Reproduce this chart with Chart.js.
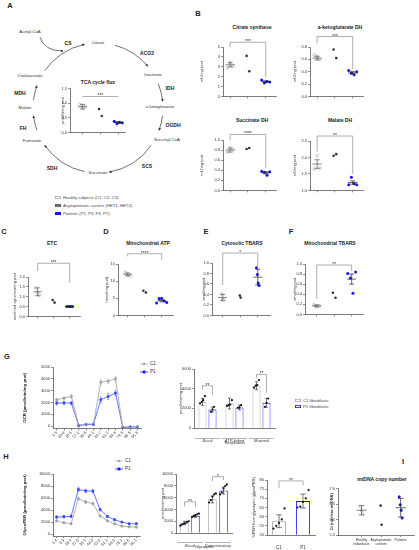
<!DOCTYPE html>
<html lang="en">
<head>
<meta charset="UTF-8">
<title>TCA cycle and mitochondrial function</title>
<script src="https://cdn.jsdelivr.net/npm/chart.js"></script>
<style>
    body {
        margin: 0;
        width: 419px;
        height: 550px;
        position: relative;
        overflow: hidden;
        background: #fff;
        font-family: 'Liberation Sans', Arial, sans-serif;
        color: #222;
    }
    canvas { position: absolute; }
    .t {
        position: absolute;
        white-space: nowrap;
        transform: translate(-50%, -50%);
        line-height: 1;
    }
    .letter { font-weight: bold; font-size: 7.5px; }
    .ttl { font-weight: bold; font-size: 5px; color: #222; }
    .leg {
        position: absolute;
        font-size: 4.2px;
        color: #444;
        white-space: nowrap;
        line-height: 1;
    }
    .leg svg { vertical-align: middle; margin-right: 2px; }
</style>
</head>
<body>

<script>
// ---------- data ----------
// A  TCA cycle flux
const tcaHealthy = [0.95, 0.85, 0.88];
const tcaCarriers = [0.80, 0.56];
const tcaPatients = [0.38, 0.30, 0.35, 0.33];
const tcaMean = [0.88, null, 0.34];
const tcaErr = [0.08, null, 0.03];

// B  enzyme activities (mU/mg prot)
const csHealthy = [2.9, 3.45, 3.1];
const csCarriers = [4.1, 2.55];
const csPatients = [1.65, 1.35, 1.5, 1.45];
const csMean = [3.2, null, 1.5];
const csErr = [0.22, null, 0.07];

const akgHealthy = [0.67, 0.64, 0.60];
const akgCarriers = [0.76, 0.62];
const akgPatients = [0.42, 0.38, 0.35, 0.40];
const akgMean = [0.62, null, 0.38];
const akgErr = [0.03, null, 0.02];

const sdhHealthy = [0.76, 0.85, 0.81];
const sdhCarriers = [0.82, 0.84];
const sdhPatients = [0.38, 0.36, 0.30, 0.37];
const sdhMean = [0.80, null, 0.35];
const sdhErr = [0.04, null, 0.02];

const mdhHealthy = [1.65, 2.05, 1.68];
const mdhCarriers = [2.05, 2.10];
const mdhPatients = [1.17, 1.40, 1.20, 1.17];
const mdhMean = [1.80, null, 1.24];
const mdhErr = [0.13, null, 0.05];

// C-F
const etcHealthy = [1.45, 1.22, 1.08];
const etcCarriers = [0.83, 0.70];
const etcPatients = [0.5, 0.5, 0.5, 0.5];
const etcMean = [1.25, null, 0.5];
const etcErr = [0.2, null, 0.02];

const atpHealthy = [12.6, 11.5, 11.6];
const atpCarriers = [7.2, 6.7];
const atpPatients = [3.6, 4.9, 5.0, 4.2, 3.8];
const atpMean = [12.0, null, 4.3];
const atpErr = [0.4, null, 0.3];

const ctbHealthy = [0.41, 0.31, 0.30];
const ctbCarriers = [0.38, 0.34];
const ctbPatients = [0.91, 0.78, 0.62, 0.57];
const ctbMean = [0.34, null, 0.73];
const ctbErr = [0.06, null, 0.15];

const mtbHealthy = [0.19, 0.15, 0.17];
const mtbCarriers = [0.43, 0.33];
const mtbPatients = [0.81, 0.72, 0.42, 0.84];
const mtbMean = [0.17, null, 0.70];
const mtbErr = [0.02, null, 0.10];

// G  OCR time course + respiration bars
const ocrTimes = ['1.5', '10.0', '18.5', '27.1', '35.6', '44.1', '52.7', '61.2', '69.8', '78.3', '86.8', '95.3'];
const ocrC1 = [2230, 2370, 2510, 90, 170, 200, 3710, 3800, 4000, -110, -60, -60];
const ocrP1 = [1940, 1970, 1940, 30, 140, 140, 2230, 2510, 2800, -110, -60, -60];
const ocrC1Err = [100, 100, 150, 30, 30, 30, 200, 200, 200, 30, 30, 30];
const ocrP1Err = [150, 150, 150, 40, 40, 40, 250, 250, 200, 30, 30, 30];
const ocrTicks = [0, 1000, 2000, 3000, 4000, 5000];

const respLabels = ['Basal', 'ATP-linked', 'Maximal'];
const respC1 = [2650, 2480, 4300];
const respP1 = [1880, 2080, 2560];
const respC1Err = [350, 550, 400];
const respP1Err = [250, 250, 450];
const respC1Dots = [[2490, 2660, 2830, 3240], [2250, 2320, 2390, 2830], [4100, 4300, 4370, 4880]];
const respP1Dots = [[1640, 1880, 2150], [2050, 2100, 2320], [2150, 2560, 3000]];
const respTicks = [0, 2000, 4000, 6000];

// H  glycoPER time course + glycolysis bars + %PER
const perTimes = ['1.4', '9.9', '18.4', '27.0', '35.5', '44.0', '52.6', '61.1', '69.6', '78.1', '86.6', '95.1'];
const perC1 = [2230, 1900, 1730, 5900, 5360, 5080, 3020, 2230, 1730, 1340, 1230, 1170];
const perP1 = [2850, 2900, 2960, 7430, 7200, 7150, 4080, 2960, 2400, 2010, 1730, 1730];
const perC1Err = [150, 150, 150, 300, 250, 250, 150, 100, 100, 100, 100, 100];
const perP1Err = [200, 200, 200, 350, 300, 300, 200, 150, 100, 100, 100, 100];
const perTicks = [0, 2000, 4000, 6000, 8000, 10000];

const glyLabels = ['Basal', 'Compensatory'];
const glyC1 = [1700, 5700];
const glyP1 = [2900, 7200];
const glyC1Err = [300, 600];
const glyP1Err = [250, 600];
const glyC1Dots = [[1250, 1420, 1590, 1650, 1875, 1990], [5170, 5570, 6140, 6530, 6700]];
const glyP1Dots = [[2730, 2900, 3000, 3180, 3300], [6530, 6870, 7560, 7950, 8240]];

const pctLabels = ['C1', 'P1'];
const pctValues = [57.5, 68.5];
const pctErr = [3.5, 3.8];
const pctDots = [[53.5, 55, 56.5, 58.5, 64.5], [65, 65.5, 68, 70, 74.5]];

// I  mtDNA copy number
const mtLabels = [['Healthy', 'individuals'], ['Asymptomatic', 'carriers'], 'Patients'];
const mtHealthy = [6.42, 6.30, 6.18];
const mtCarriers = [6.45, 5.83];
const mtPatients = [6.74, 6.48, 6.30, 6.05];
const mtMean = [6.30, null, 6.38];
const mtErr = [0.15, null, 0.30];

// ---------- helpers ----------
const FONT = "'Liberation Sans', Arial, sans-serif";
Chart.defaults.font.family = FONT;
Chart.defaults.font.size = 4;
Chart.defaults.color = '#333';

const GREY = '#a0a0a0', BLUE = '#1414ff', BLUE_LINE = '#3a55ff';
const plain = v => String(v);

function seg(ctx, pts) {
    ctx.beginPath();
    ctx.moveTo(pts[0][0], pts[0][1]);
    for (let i = 1; i < pts.length; i++) ctx.lineTo(pts[i][0], pts[i][1]);
    ctx.stroke();
}

function drawBracket(ctx, x1, x2, y, b) {
    ctx.strokeStyle = '#777';
    ctx.lineWidth = 0.6;
    seg(ctx, [[x1, y(b.l1)], [x1, y(b.y)], [x2, y(b.y)], [x2, y(b.l2)]]);
    ctx.fillStyle = '#333';
    ctx.font = '5px ' + FONT;
    ctx.textAlign = 'center';
    ctx.textBaseline = 'alphabetic';
    ctx.fillText(b.text, (x1 + x2) / 2, y(b.y) + 1);
}

// mean / error bars and brackets on the dot plots
const marks = {
    id: 'marks',
    afterDatasetsDraw(chart, args, o) {
        if (!o.mean) return;
        const ctx = chart.ctx, xs = chart.scales.x, ys = chart.scales.y;
        const x = v => xs.getPixelForValue(v), y = v => ys.getPixelForValue(v);
        ctx.save();
        o.mean.forEach((m, g) => {
            if (m == null) return;
            const e = o.err[g], px = x(g + 1), hw = x(g + 1.26) - px, ww = hw * 0.55;
            ctx.strokeStyle = g === 0 ? '#555' : '#222';
            ctx.lineWidth = 0.7;
            seg(ctx, [[px - hw, y(m)], [px + hw, y(m)]]);
            seg(ctx, [[px, y(m - e)], [px, y(m + e)]]);
            seg(ctx, [[px - ww, y(m + e)], [px + ww, y(m + e)]]);
            seg(ctx, [[px - ww, y(m - e)], [px + ww, y(m - e)]]);
        });
        (o.brackets || []).forEach(b => drawBracket(ctx, x(b.x1), x(b.x2), y, b));
        ctx.restore();
    }
};

// replicate dots, error bars, brackets and group axis on bar charts
const barMarks = {
    id: 'barMarks',
    afterDatasetsDraw(chart, args, o) {
        if (!o.dots) return;
        const ctx = chart.ctx, ys = chart.scales.y, y = v => ys.getPixelForValue(v);
        ctx.save();
        chart.data.datasets.forEach((ds, di) => {
            chart.getDatasetMeta(di).data.forEach((bar, i) => {
                const v = ds.data[i], e = o.err[di][i], w = bar.width, px = bar.x;
                ctx.strokeStyle = '#222';
                ctx.lineWidth = 0.6;
                seg(ctx, [[px, y(v - e)], [px, y(v + e)]]);
                seg(ctx, [[px - w * 0.2, y(v + e)], [px + w * 0.2, y(v + e)]]);
                seg(ctx, [[px - w * 0.2, y(v - e)], [px + w * 0.2, y(v - e)]]);
                const pts = o.dots[di][i];
                ctx.fillStyle = '#111';
                pts.forEach((p, k) => {
                    const dx = (k - (pts.length - 1) / 2) * w * 0.2;
                    ctx.beginPath();
                    ctx.arc(px + dx, y(p), 1.1, 0, Math.PI * 2);
                    ctx.fill();
                });
            });
        });
        (o.brackets || []).forEach(b => {
            const m1 = chart.getDatasetMeta(b.a[0]).data[b.a[1]];
            const m2 = chart.getDatasetMeta(b.b[0]).data[b.b[1]];
            drawBracket(ctx, m1.x, m2.x, y, b);
        });
        if (o.group) {
            const xs = chart.scales.x, base = chart.chartArea.bottom;
            const half = xs.width / xs.ticks.length * 0.46;
            ctx.strokeStyle = '#666';
            ctx.lineWidth = 0.5;
            xs.ticks.forEach((t, i) => {
                const c = xs.getPixelForTick(i);
                seg(ctx, [[c - half, base + o.lineOff], [c + half, base + o.lineOff]]);
            });
            ctx.fillStyle = '#333';
            ctx.font = '4px ' + FONT;
            ctx.textAlign = 'center';
            ctx.textBaseline = 'middle';
            ctx.fillText(o.group, (xs.left + xs.right) / 2, base + o.textOff);
        }
        ctx.restore();
    }
};

// error bars on the time-course lines
const lineErr = {
    id: 'lineErr',
    afterDatasetsDraw(chart, args, o) {
        if (!o.err) return;
        const ctx = chart.ctx, ys = chart.scales.y, y = v => ys.getPixelForValue(v);
        ctx.save();
        ctx.lineWidth = 0.5;
        chart.data.datasets.forEach((ds, di) => {
            ctx.strokeStyle = ds.borderColor;
            chart.getDatasetMeta(di).data.forEach((p, i) => {
                const v = ds.data[i], e = o.err[di][i];
                seg(ctx, [[p.x, y(v - e)], [p.x, y(v + e)]]);
                seg(ctx, [[p.x - 1, y(v + e)], [p.x + 1, y(v + e)]]);
                seg(ctx, [[p.x - 1, y(v - e)], [p.x + 1, y(v - e)]]);
            });
        });
        ctx.restore();
    }
};

Chart.register(marks, barMarks, lineErr);

function canvasAt(L, T, R, B) {
    const c = document.createElement('canvas');
    c.width = R - L;
    c.height = B - T;
    c.style.left = L + 'px';
    c.style.top = T + 'px';
    c.style.width = (R - L) + 'px';
    c.style.height = (B - T) + 'px';
    document.body.appendChild(c);
    return c;
}

function axisLook() {
    return {
        grid: { drawOnChartArea: false, tickLength: 2, color: '#444', lineWidth: 0.6 },
        border: { color: '#444', width: 0.7 }
    };
}

// frame: canvas box (L,T,R,B) and plot area (ax = y axis x, top, right, bot = x axis y)
function frameOptions(f) {
    return {
        responsive: false,
        animation: false,
        events: [],
        layout: { padding: { top: f.top - f.T, right: f.R - f.right, left: 0, bottom: 0 } }
    };
}

function spread(vals, g, w) {
    return vals.map((v, i) => ({ x: g + (i - (vals.length - 1) / 2) * w, y: v }));
}

function dotPlot(f, d) {
    const w = d.w || 0.15;
    new Chart(canvasAt(f.L, f.T, f.R, f.B), {
        type: 'scatter',
        data: {
            datasets: [
                { data: spread(d.h, 1, w), backgroundColor: '#fff', borderColor: GREY, borderWidth: 0.6, pointRadius: 1.4 },
                { data: spread(d.c, 2, w), backgroundColor: '#333', borderColor: '#333', borderWidth: 0, pointRadius: 1.3 },
                { data: spread(d.p, 3, w), backgroundColor: BLUE, borderColor: BLUE, borderWidth: 0, pointRadius: 1.5 }
            ]
        },
        options: Object.assign(frameOptions(f), {
            plugins: {
                legend: { display: false },
                tooltip: { enabled: false },
                marks: { mean: d.mean, err: d.err, brackets: d.brackets || [] }
            },
            scales: {
                x: Object.assign(axisLook(), {
                    type: 'linear', min: f.xMin, max: f.xMax,
                    afterBuildTicks: a => { a.ticks = [1, 2, 3].map(v => ({ value: v })); },
                    afterFit: a => { a.height = f.B - f.bot; },
                    ticks: {
                        padding: 1, maxRotation: 0, autoSkip: false, font: { size: 3.4 },
                        callback: (v, i) => d.xLabels ? d.xLabels[i] : ''
                    }
                }),
                y: Object.assign(axisLook(), {
                    min: d.yMin, max: d.yMax,
                    afterFit: a => { a.width = f.ax - f.L; },
                    ticks: { stepSize: d.step, padding: 1, callback: v => v.toFixed(d.dec) },
                    title: { display: true, text: d.yTitle, padding: 0, font: { size: 4, weight: d.boldTitle ? 'bold' : 'normal' } }
                })
            }
        })
    });
}

function lineChart(f, d) {
    new Chart(canvasAt(f.L, f.T, f.R, f.B), {
        type: 'line',
        data: {
            labels: d.labels,
            datasets: [
                { label: 'C1', data: d.c1, borderColor: GREY, backgroundColor: GREY, borderWidth: 0.8, pointRadius: 1.1 },
                { label: 'P1', data: d.p1, borderColor: BLUE_LINE, backgroundColor: BLUE, borderWidth: 0.8, pointRadius: 1.3, pointStyle: 'rect' }
            ]
        },
        options: Object.assign(frameOptions(f), {
            plugins: { legend: { display: false }, tooltip: { enabled: false }, lineErr: { err: d.err } },
            scales: {
                x: Object.assign(axisLook(), {
                    offset: true,
                    afterFit: a => { a.height = f.B - f.bot; },
                    ticks: { minRotation: 45, maxRotation: 45, autoSkip: false, padding: 0 }
                }),
                y: Object.assign(axisLook(), {
                    min: d.yMin, max: d.ticks[d.ticks.length - 1],
                    afterBuildTicks: a => { a.ticks = d.ticks.map(v => ({ value: v })); },
                    afterFit: a => { a.width = f.ax - f.L; },
                    ticks: { padding: 1, callback: plain },
                    title: { display: true, text: d.yTitle, padding: 0, color: '#222', font: { size: 4.3, weight: 'bold' } }
                })
            }
        })
    });
}

function barChart(f, d) {
    new Chart(canvasAt(f.L, f.T, f.R, f.B), {
        type: 'bar',
        data: { labels: d.labels, datasets: d.datasets },
        options: Object.assign(frameOptions(f), {
            plugins: {
                legend: { display: false },
                tooltip: { enabled: false },
                barMarks: { dots: d.dots, err: d.err, brackets: d.brackets, group: d.group, lineOff: d.lineOff, textOff: d.textOff }
            },
            scales: {
                x: {
                    grid: { display: false },
                    border: { color: '#444', width: 0.7 },
                    afterFit: a => { a.height = f.B - f.bot; },
                    ticks: { padding: 2, maxRotation: 0, autoSkip: false, font: { size: d.tickSize || 4, style: d.italic ? 'italic' : 'normal' } }
                },
                y: Object.assign(axisLook(), {
                    min: d.yMin, max: d.yMax,
                    afterBuildTicks: d.ticks ? a => { a.ticks = d.ticks.map(v => ({ value: v })); } : undefined,
                    afterFit: a => { a.width = f.ax - f.L; },
                    ticks: { padding: 1, stepSize: d.step, callback: plain },
                    title: { display: true, text: d.yTitle, padding: 0, font: { size: 4 } }
                })
            }
        })
    });
}

function text(cls, x, y, s, style) {
    const el = document.createElement('div');
    el.className = 't ' + cls;
    el.style.left = x + 'px';
    el.style.top = y + 'px';
    if (style) el.style.cssText += style;
    el.textContent = s;
    document.body.appendChild(el);
}

// ---------- panel A: TCA cycle diagram ----------
(function () {
    const cx = 98, cy = 108, r = 65;
    const arcs = [[15, 50], [68, 84], [97, 110], [125, 170], [192, 235], [250, 263], [277, 290], [305, 348]];
    const pt = a => {
        const t = a * Math.PI / 180;
        return [cx + r * Math.sin(t), cy - r * Math.cos(t)];
    };
    let svg = '<svg width="210" height="195" style="position:absolute;left:0;top:0">' +
        '<defs><marker id="ah" viewBox="0 0 6 6" refX="5" refY="3" markerWidth="4" markerHeight="4" orient="auto">' +
        '<path d="M0,0 L6,3 L0,6 z" fill="#333"/></marker></defs>';
    arcs.forEach(([a, b]) => {
        const [x1, y1] = pt(a), [x2, y2] = pt(b);
        svg += `<path d="M${x1},${y1} A${r},${r} 0 0 1 ${x2},${y2}" fill="none" stroke="#333" stroke-width="0.7" marker-end="url(#ah)"/>`;
    });
    svg += '<path d="M40,37 Q44,51 63,51" fill="none" stroke="#333" stroke-width="0.7" marker-end="url(#ah)"/>';
    svg += '</svg>';
    document.body.insertAdjacentHTML('beforeend', svg);

    const metab = [['Acetyl-CoA', 30, 32], ['Citrate', 98, 43], ['Isocitrate', 153, 75], ['a-ketoglutarate', 160, 107],
        ['Succinyl-CoA', 167, 140], ['Succinate', 98, 173], ['Fumarate', 32, 141], ['Malate', 25, 108], ['Oxaloacetate', 30, 76]];
    metab.forEach(m => text('', m[1], m[2], m[0], 'font-size:4.3px;color:#333'));
    const enz = [['CS', 68, 43], ['ACO2', 147, 53], ['IDH', 170, 88], ['OGDH', 173, 125],
        ['SCS', 147, 166], ['SDH', 52, 168], ['FH', 23, 128], ['MDH', 20, 93]];
    enz.forEach(e => text('', e[1], e[2], e[0], 'font-size:5px;font-weight:bold;color:#222'));
})();

// panel letters and titles
[['A', 10, 6], ['B', 198, 14], ['C', 4, 232], ['D', 106, 232], ['E', 206, 232], ['F', 291, 232],
 ['G', 7, 357], ['H', 6, 457], ['I', 403, 462]].forEach(l => text('letter', l[1], l[2], l[0]));
[['TCA cycle flux', 98, 82], ['Citrate synthase', 252, 27], ['a-ketoglutarate DH', 340, 27],
 ['Succinate DH', 252, 120], ['Malate DH', 340, 120], ['ETC', 52, 243], ['Mitochondrial ATP', 148, 243],
 ['Cytosolic TBARS', 242, 243], ['Mitochondrial TBARS', 330, 243], ['mtDNA copy number', 382, 479]]
    .forEach(t => text('ttl', t[1], t[2], t[0]));

// group legend under A
document.body.insertAdjacentHTML('beforeend',
    '<div class="leg" style="left:55px;top:196px"><svg width="6" height="3"><rect x="0.3" y="0.3" width="5.4" height="2.4" fill="#fff" stroke="#999" stroke-width="0.6"/></svg>Healthy subjects (C1, C2, C3)</div>' +
    '<div class="leg" style="left:55px;top:204px"><svg width="6" height="3"><rect x="0.3" y="0.3" width="5.4" height="2.4" fill="#777" stroke="#444" stroke-width="0.6"/></svg>Asymptomatic carriers (HET1, HET2)</div>' +
    '<div class="leg" style="left:55px;top:212px"><svg width="6" height="3"><rect x="0" y="0" width="6" height="3" fill="' + BLUE + '"/></svg>Patients (P1, P3, P6, P7)</div>');

// line and bar legends in G and H
function lineLegend(x, y, label, color, square) {
    const mk = square ? `<rect x="2.6" y="0.6" width="2.8" height="2.8" fill="${color}"/>` : `<circle cx="4" cy="2" r="1.2" fill="${color}"/>`;
    document.body.insertAdjacentHTML('beforeend',
        `<div class="leg" style="left:${x}px;top:${y}px;font-size:4.6px;color:#333"><svg width="8" height="4"><line x1="0" y1="2" x2="8" y2="2" stroke="${color}" stroke-width="0.7"/>${mk}</svg>${label}</div>`);
}
lineLegend(140, 362, 'C1', GREY, false);
lineLegend(140, 370, 'P1', BLUE, true);
lineLegend(115, 459, 'C1', GREY, false);
lineLegend(115, 467, 'P1', BLUE, true);
document.body.insertAdjacentHTML('beforeend',
    '<div class="leg" style="left:295px;top:399px"><svg width="6" height="3"><rect x="0.3" y="0.3" width="5.4" height="2.4" fill="#fff" stroke="#999" stroke-width="0.6"/></svg>C1 fibroblasts</div>' +
    '<div class="leg" style="left:295px;top:405px"><svg width="6" height="3"><rect x="0.4" y="0.4" width="5.2" height="2.2" fill="#fff" stroke="' + BLUE + '" stroke-width="0.8"/></svg>P1 fibroblasts</div>');

// ---------- dot plots ----------
const bracket13 = (y, l1, l2, t) => ({ x1: 1, x2: 3, y: y, l1: l1, l2: l2, text: t });

dotPlot({ L: 60, T: 84, R: 130, B: 137, ax: 70, top: 87, right: 127, bot: 133, xMin: 0.3, xMax: 3.4 },
    { h: tcaHealthy, c: tcaCarriers, p: tcaPatients, mean: tcaMean, err: tcaErr, yMin: 0, yMax: 1.5, step: 0.5, dec: 1,
      yTitle: 'pmol/h/mg prot', brackets: [bracket13(1.23, 1.23, 1.23, '***')] });

dotPlot({ L: 199, T: 30, R: 281, B: 101, ax: 223, top: 47, right: 278, bot: 98, xMin: 0.6, xMax: 3.6 },
    { h: csHealthy, c: csCarriers, p: csPatients, mean: csMean, err: csErr, yMin: 0, yMax: 5, step: 1, dec: 0,
      yTitle: 'mU/mg prot', brackets: [bracket13(5.48, 5.0, 1.9, '***')] });

dotPlot({ L: 292, T: 30, R: 368, B: 101, ax: 310, top: 47, right: 365, bot: 98, xMin: 0.6, xMax: 3.6 },
    { h: akgHealthy, c: akgCarriers, p: akgPatients, mean: akgMean, err: akgErr, yMin: 0, yMax: 0.8, step: 0.2, dec: 1,
      yTitle: 'mU/mg prot', brackets: [bracket13(0.97, 0.86, 0.44, '***')] });

dotPlot({ L: 199, T: 124, R: 281, B: 195, ax: 223, top: 140, right: 278, bot: 192, xMin: 0.6, xMax: 3.6 },
    { h: sdhHealthy, c: sdhCarriers, p: sdhPatients, mean: sdhMean, err: sdhErr, yMin: 0, yMax: 1.0, step: 0.2, dec: 1,
      yTitle: 'mU/mg prot', brackets: [bracket13(1.11, 1.0, 0.45, '****')] });

dotPlot({ L: 292, T: 124, R: 368, B: 195, ax: 310, top: 141, right: 365, bot: 192, xMin: 0.6, xMax: 3.6 },
    { h: mdhHealthy, c: mdhCarriers, p: mdhPatients, mean: mdhMean, err: mdhErr, yMin: 1.0, yMax: 2.5, step: 0.5, dec: 1,
      yTitle: 'mU/mg prot', brackets: [bracket13(2.65, 2.18, 1.5, '**')] });

dotPlot({ L: 12, T: 252, R: 85, B: 321, ax: 28, top: 277, right: 82, bot: 318, xMin: 0.4, xMax: 3.67 },
    { h: etcHealthy, c: etcCarriers, p: etcPatients, mean: etcMean, err: etcErr, yMin: 0, yMax: 2.0, step: 0.5, dec: 1,
      yTitle: 'nmol red cyt c/min/mg prot', w: 0.12, brackets: [bracket13(2.7, 2.3, 1.7, '***')] });

dotPlot({ L: 104, T: 250, R: 178, B: 320, ax: 118, top: 264, right: 175, bot: 317, xMin: 0.43, xMax: 3.69 },
    { h: atpHealthy, c: atpCarriers, p: atpPatients, mean: atpMean, err: atpErr, yMin: 0, yMax: 15, step: 5, dec: 0,
      yTitle: '(nmol/mg prot)', brackets: [bracket13(18, 17.2, 16.2, '****')] });

dotPlot({ L: 201, T: 248, R: 275, B: 320, ax: 212, top: 263, right: 272, bot: 317, xMin: 0.39, xMax: 3.72 },
    { h: ctbHealthy, c: ctbCarriers, p: ctbPatients, mean: ctbMean, err: ctbErr, yMin: 0, yMax: 1.0, step: 0.2, dec: 1,
      yTitle: 'nmol/mg prot', w: 0.05, brackets: [bracket13(1.19, 0.58, 0.94, '*')] });

dotPlot({ L: 292, T: 250, R: 368, B: 319, ax: 305, top: 264, right: 365, bot: 316, xMin: 0.33, xMax: 3.67 },
    { h: mtbHealthy, c: mtbCarriers, p: mtbPatients, mean: mtbMean, err: mtbErr, yMin: 0, yMax: 1.0, step: 0.2, dec: 1,
      yTitle: 'nmol/mg prot', brackets: [bracket13(0.98, 0.31, 0.86, '**')] });

dotPlot({ L: 329, T: 484, R: 419, B: 550, ax: 338, top: 487, right: 417, bot: 535, xMin: -0.2, xMax: 3.7 },
    { h: mtHealthy, c: mtCarriers, p: mtPatients, mean: mtMean, err: mtErr, yMin: 5.5, yMax: 7.0, step: 0.5, dec: 1,
      yTitle: 'Ct (nuclear-mtDNA)', boldTitle: true, w: 0.05, xLabels: mtLabels });

// ---------- G ----------
lineChart({ L: 22, T: 362, R: 146, B: 446, ax: 53, top: 367, right: 142, bot: 428.5 },
    { labels: ocrTimes, c1: ocrC1, p1: ocrP1, err: [ocrC1Err, ocrP1Err], ticks: ocrTicks, yMin: -200,
      yTitle: 'OCR (pmol/min/mg prot)' });

barChart({ L: 178, T: 360, R: 278, B: 447, ax: 194, top: 369, right: 275, bot: 428 },
    { labels: respLabels, italic: true, yMin: 0, yMax: 6000, ticks: respTicks, yTitle: 'pmol/min/mg prot',
      datasets: [
          { data: respC1, backgroundColor: '#fff', borderColor: GREY, borderWidth: 0.9, categoryPercentage: 0.74, barPercentage: 0.8 },
          { data: respP1, backgroundColor: '#fff', borderColor: BLUE, borderWidth: 0.9, categoryPercentage: 0.74, barPercentage: 0.8 }
      ],
      dots: [respC1Dots, respP1Dots], err: [respC1Err, respP1Err],
      brackets: [{ a: [0, 0], b: [1, 0], y: 4300, l1: 3900, l2: 3400, text: '**' },
                 { a: [0, 2], b: [1, 2], y: 5450, l1: 5100, l2: 3600, text: '**' }],
      group: 'Respiration', lineOff: 10.5, textOff: 14.5 });

// ---------- H ----------
lineChart({ L: 22, T: 469, R: 146, B: 550, ax: 53, top: 474, right: 140, bot: 536 },
    { labels: perTimes, c1: perC1, p1: perP1, err: [perC1Err, perP1Err], ticks: perTicks, yMin: -300,
      yTitle: 'GlycoPER (pmol/min/mg prot)' });

barChart({ L: 160, T: 465, R: 236, B: 550, ax: 176, top: 474, right: 232, bot: 533 },
    { labels: glyLabels, italic: true, yMin: 0, yMax: 10000, step: 2000, yTitle: 'pmol/min/mg prot',
      datasets: [
          { data: glyC1, backgroundColor: '#fff', borderColor: GREY, borderWidth: 0.9, categoryPercentage: 0.79, barPercentage: 0.77 },
          { data: glyP1, backgroundColor: '#fff', borderColor: BLUE, borderWidth: 0.9, categoryPercentage: 0.79, barPercentage: 0.77 }
      ],
      dots: [glyC1Dots, glyP1Dots], err: [glyC1Err, glyP1Err],
      brackets: [{ a: [0, 0], b: [1, 0], y: 5280, l1: 4500, l2: 4400, text: '**' },
                 { a: [0, 1], b: [1, 1], y: 9550, l1: 8800, l2: 9000, text: '*' }],
      group: 'Glycolysis', lineOff: 9.5, textOff: 13.5 });

barChart({ L: 251, T: 470, R: 320, B: 550, ax: 267, top: 480, right: 315, bot: 535 },
    { labels: pctLabels, tickSize: 4.5, yMin: 50, yMax: 80, step: 5, yTitle: '%PER from glycolysis (glycoPER)',
      datasets: [
          { data: pctValues, base: 50, backgroundColor: '#fff', borderColor: [GREY, BLUE], borderWidth: 0.9, categoryPercentage: 1, barPercentage: 0.58 }
      ],
      dots: [pctDots], err: [pctErr],
      brackets: [{ a: [0, 0], b: [0, 1], y: 79.5, l1: 75.5, l2: 77, text: '**' }] });
</script>
</body>
</html>
